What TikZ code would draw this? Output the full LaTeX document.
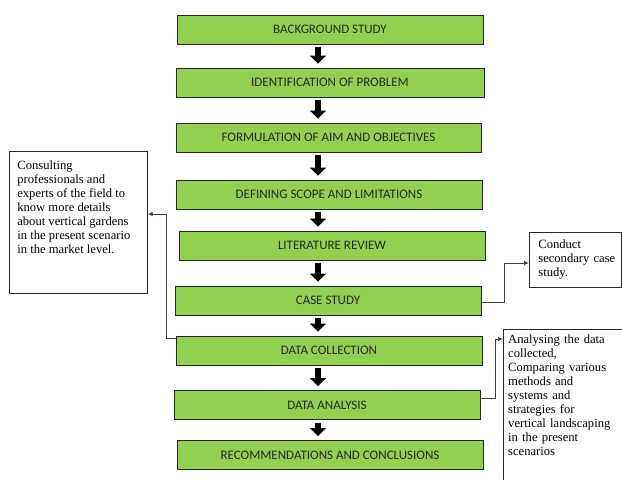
\documentclass[tikz,border=0pt]{standalone}
\usepackage{fontspec}
\setmainfont{Liberation Serif}
\newfontfamily\boxfont{Carlito}
\usetikzlibrary{arrows.meta}
\definecolor{stagegreen}{HTML}{92D050}

\begin{document}
\begin{tikzpicture}[x=1pt,y=-1pt,
  stage node/.style={draw=black!85,line width=0.9pt,fill=stagegreen,minimum width=306pt,minimum height=29pt,inner sep=0pt,text=black!85,font=\boxfont\fontsize{13}{15}\selectfont},
  note node/.style={align=left,anchor=north west,font=\fontsize{12.6}{14}\selectfont},
  note line/.style={draw=black!85,line width=0.7pt},
  block arrow/.style={line width=6pt,-{Triangle[width=16pt,length=8pt]},shorten <=3pt,shorten >=4pt},
  link/.style={draw=black!75,line width=0.8pt,-{Latex[length=5pt,width=4.5pt]}}]

            \useasboundingbox (0,0) rectangle (622,480);

            % main stages
            \node[stage node] (1) at (330,29.5) {BACKGROUND STUDY};
            \node[stage node, minimum width=308pt] (2) at (330,82.5) {IDENTIFICATION OF PROBLEM};
            \node[stage node, minimum width=305pt] (3) at (328.5,137.5) {FORMULATION OF AIM AND OBJECTIVES};
            \node[stage node] (4) at (329,194.5) {DEFINING SCOPE AND LIMITATIONS};
            \node[stage node] (5) at (332,245.5) {LITERATURE REVIEW};
            \node[stage node] (6) at (328,300.5) {CASE STUDY};
            \node[stage node] (7) at (329,350.5) {DATA COLLECTION};
            \node[stage node] (8) at (327,405) {DATA ANALYSIS};
            \node[stage node] (9) at (330,455) {RECOMMENDATIONS AND CONCLUSIONS};

            \coordinate (ax) at (318,0);
            \draw[block arrow] (1.south -| ax) to (2.north -| ax);
            \draw[block arrow] (2.south -| ax) to (3.north -| ax);
            \draw[block arrow] (3.south -| ax) to (4.north -| ax);
            \draw[block arrow] (4.south -| ax) to (5.north -| ax);
            \draw[block arrow] (5.south -| ax) to (6.north -| ax);
            \draw[block arrow] (6.south -| ax) to (7.north -| ax);
            \draw[block arrow] (7.south -| ax) to (8.north -| ax);
            \draw[block arrow] (8.south -| ax) to (9.north -| ax);

            % side notes
            \node[note node, note line, inner xsep=8pt, inner ysep=9pt] (cons) at (9,151)
                {\parbox[t][124pt][t]{122pt}{\raggedright Consulting\\professionals and\\experts of the field to\\know more details\\about vertical gardens\\in the present scenario\\in the market level.}};
            \node[note node, note line, text width=80pt, inner xsep=6pt, inner ysep=6pt, minimum height=55pt] (case) at (529,232)
                {\hspace*{3pt}Conduct\\\hspace*{3pt}secondary case\\\hspace*{3pt}study.};
            \node[note node, text width=110pt, inner xsep=5pt, inner ysep=6pt] (anl) at (503,329)
                {Analysing the data\\collected,\\Comparing various\\methods and\\systems and\\strategies for\\vertical landscaping\\in the present\\scenarios};
            \draw[note line] (anl.north east) -- (anl.north west) -- (anl.north west |- 0,480);

            % connectors
            \coordinate (lk) at (166,214);
            \coordinate (ck) at (504,263);
            \coordinate (ak) at (495,339);
            \draw[link] ([yshift=-3pt]7.north west) -| (lk) -- (lk -| cons.east);
            \draw[link] ([yshift=-1.5pt]6.east) -| (ck) -- (ck -| case.west);
            \draw[link] ([yshift=7pt]8.east) -| (ak) -- (ak -| anl.west);

            ;
        \end{tikzpicture}
\end{document}
